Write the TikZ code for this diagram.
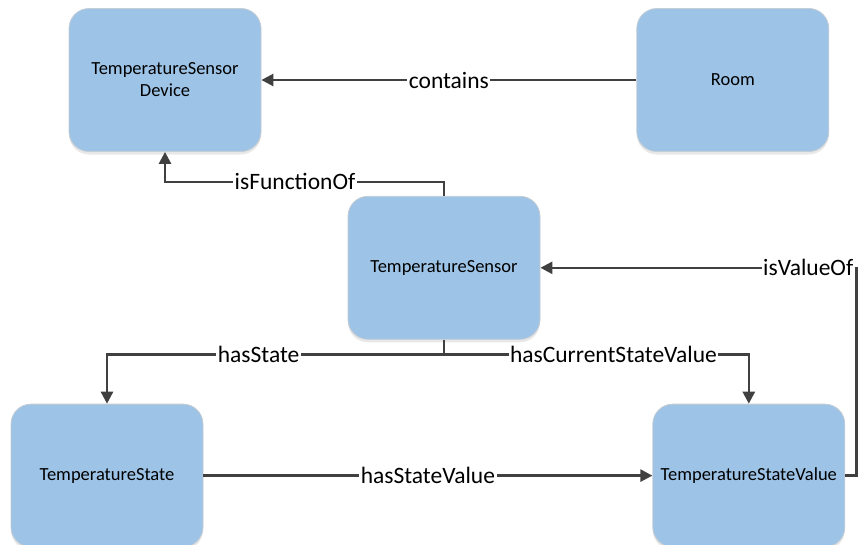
\documentclass[tikz,border=0pt]{standalone}
\usepackage{fontspec}
\setmainfont{Carlito}
\usepackage{xcolor}
\usetikzlibrary{arrows.meta, positioning, shadows}
\definecolor{boxblue}{HTML}{9DC3E6}
\definecolor{boxline}{HTML}{C4CCD4}
\definecolor{linegray}{HTML}{404040}
\tikzset{
  concept/.style={rectangle, rounded corners=20pt, minimum width=192pt, minimum height=143pt, text centered, align=center, draw=boxline, line width=0.8pt, fill=boxblue, font=\fontsize{18.5}{22}\selectfont, drop shadow={shadow xshift=0pt, shadow yshift=-3pt, fill=gray!30, opacity=0.6}},
  arrow/.style={line width=2.6pt, draw=linegray, -{Triangle[length=12pt,width=12pt]}},
  plainline/.style={line width=2.6pt, draw=linegray},
  rel/.style={fill=white, inner sep=1.5pt, text=black, font=\fontsize{23.5}{26}\selectfont}
}
\begin{document}
\begin{tikzpicture}[x=1pt, y=-1pt]
\useasboundingbox (0,0) rectangle (859,544);
% Concepts
\node[concept] (device) at (165,80) {TemperatureSensor\\Device};
\node[concept, right=375pt of device] (room) {Room};
\node[concept, below=44pt of device, xshift=279pt] (sensor) {TemperatureSensor};
\node[concept, below=64pt of sensor, xshift=-337pt] (state) {TemperatureState};
\node[concept, right=449pt of state] (value) {TemperatureStateValue};

% Relations
\draw[arrow] (room) -- node[rel] {contains} (device);
\draw[arrow] (sensor.north) -- ++(0,-14) -| node[rel, pos=0.267] {isFunctionOf} (device.south);
\draw[arrow] (sensor.south) -- ++(0,15) -| node[rel, pos=0.275] {hasState} (state.north);
\draw[arrow] (sensor.south) -- ++(0,15) -| node[rel, pos=0.278] {hasCurrentStateValue} (value.north);
\draw[arrow] (state) -- node[rel] {hasStateValue} (value);
\draw[arrow] (value.east) -- ++(11,0) |- node[rel, pos=0.576] {isValueOf} (sensor.east);
\end{tikzpicture}
\end{document}
